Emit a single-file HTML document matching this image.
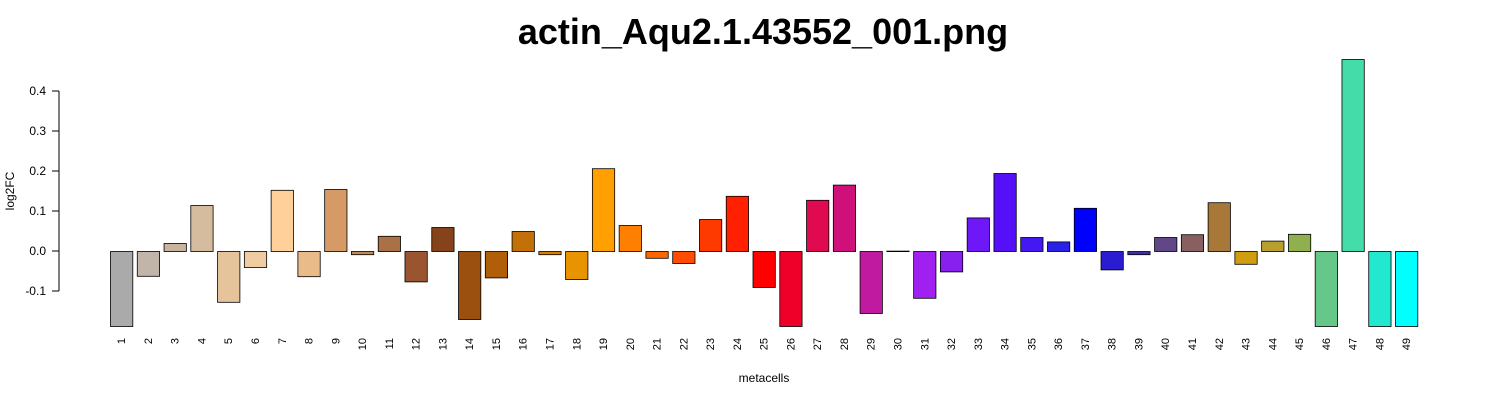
<!DOCTYPE html>
<html><head><meta charset="utf-8"><style>
html,body{margin:0;padding:0;background:#fff;}
svg{display:block;font-family:"Liberation Sans",sans-serif;}
</style></head><body>
<svg id="chart" width="1500" height="400" xmlns="http://www.w3.org/2000/svg">
<text x="763" y="44" text-anchor="middle" font-size="36" font-weight="bold">actin_Aqu2.1.43552_001.png</text>
<text transform="translate(14,191) rotate(-90)" text-anchor="middle" font-size="12">log2FC</text>
<text x="764" y="382" text-anchor="middle" font-size="12">metacells</text>
<g id="yaxis"></g>
<g id="bars"></g>
<g id="xlabels"></g>
</svg>
<script>
const categories = Array.from({length:49},(_,i)=>String(i+1));
const values = [-0.2,-0.062,0.02,0.115,-0.127,-0.04,0.153,-0.063,0.155,-0.008,0.038,-0.076,0.06,-0.17,-0.066,0.05,-0.008,-0.07,0.207,0.065,-0.017,-0.03,0.08,0.138,-0.09,-0.2,0.128,0.166,-0.155,0.001,-0.117,-0.051,0.084,0.195,0.035,0.024,0.108,-0.046,-0.008,0.035,0.042,0.122,-0.032,0.026,0.043,-0.2,0.48,-0.2,-0.2];
const colors = ["#aaaaaa","#c0b5a8","#c8b49e","#d5bc9e","#e5c49c","#f0cca2","#ffd09a","#e8bb88","#d59a66","#c08a5e","#aa7048","#9a5530","#86421a","#9c5010","#b05e0a","#c47008","#d88000","#e89400","#ffa000","#ff8000","#ff6600","#ff4c00","#ff3a00","#ff2000","#ff0000","#ee0028","#e00a50","#d0107a","#c01aa0","#b020c8","#a020f0","#8820f0","#6e18f8","#5510f8","#4418f0","#2a20e8","#0000ff","#2a1cd0","#4030a8","#604888","#886060","#a87838","#d09c10","#b8a030","#90b050","#66c888","#44ddaa","#22e8d0","#00ffff"];
const yTicks = [-0.1,0.0,0.1,0.2,0.3,0.4];
const yTickLabels = ["-0.1","0.0","0.1","0.2","0.3","0.4"];
const NS="http://www.w3.org/2000/svg";
const yMinPx=326, zeroPx=251, pxPerUnit=400;
const y = v => zeroPx - v*pxPerUnit;
const step=(1395-110)/48, bw=step/1.2, x0=110;
const x = i => x0 + i*step;
function mk(tag,attrs,parent){const e=document.createElementNS(NS,tag);for(const k in attrs)e.setAttribute(k,attrs[k]);parent.appendChild(e);return e;}
const ya=document.getElementById('yaxis');
let ln=mk('line',{x1:59,x2:59,y1:y(yTicks[yTicks.length-1]),y2:y(yTicks[0]),stroke:'#000'},ya);


yTicks.forEach((t,i)=>{
  const tk=mk('line',{x1:52,x2:59,y1:y(t),y2:y(t),stroke:'#000'},ya);
  
  
  const tx=mk('text',{x:46,y:y(t)+4,'text-anchor':'end','font-size':12},ya);
  tx.textContent=yTickLabels[i];
  
  
});
const bg=document.getElementById('bars'), xl=document.getElementById('xlabels');
values.forEach((v,i)=>{
  let top=Math.min(y(v),zeroPx), bot=Math.max(y(v),zeroPx);
  top=Math.max(top,0); bot=Math.min(bot,yMinPx);
  const r=mk('rect',{x:x(i)+0.5,y:top+0.5,width:bw,height:Math.max(bot-top,0.5),fill:colors[i],stroke:'#000','stroke-width':0.8},bg);
  
  
  const cx=x(i)+bw/2;
  const t=mk('text',{transform:`translate(${cx+4},${338}) rotate(-90)`,'text-anchor':'end','font-size':11},xl);
  t.textContent=categories[i];
  
  
});
</script>
</body></html>
